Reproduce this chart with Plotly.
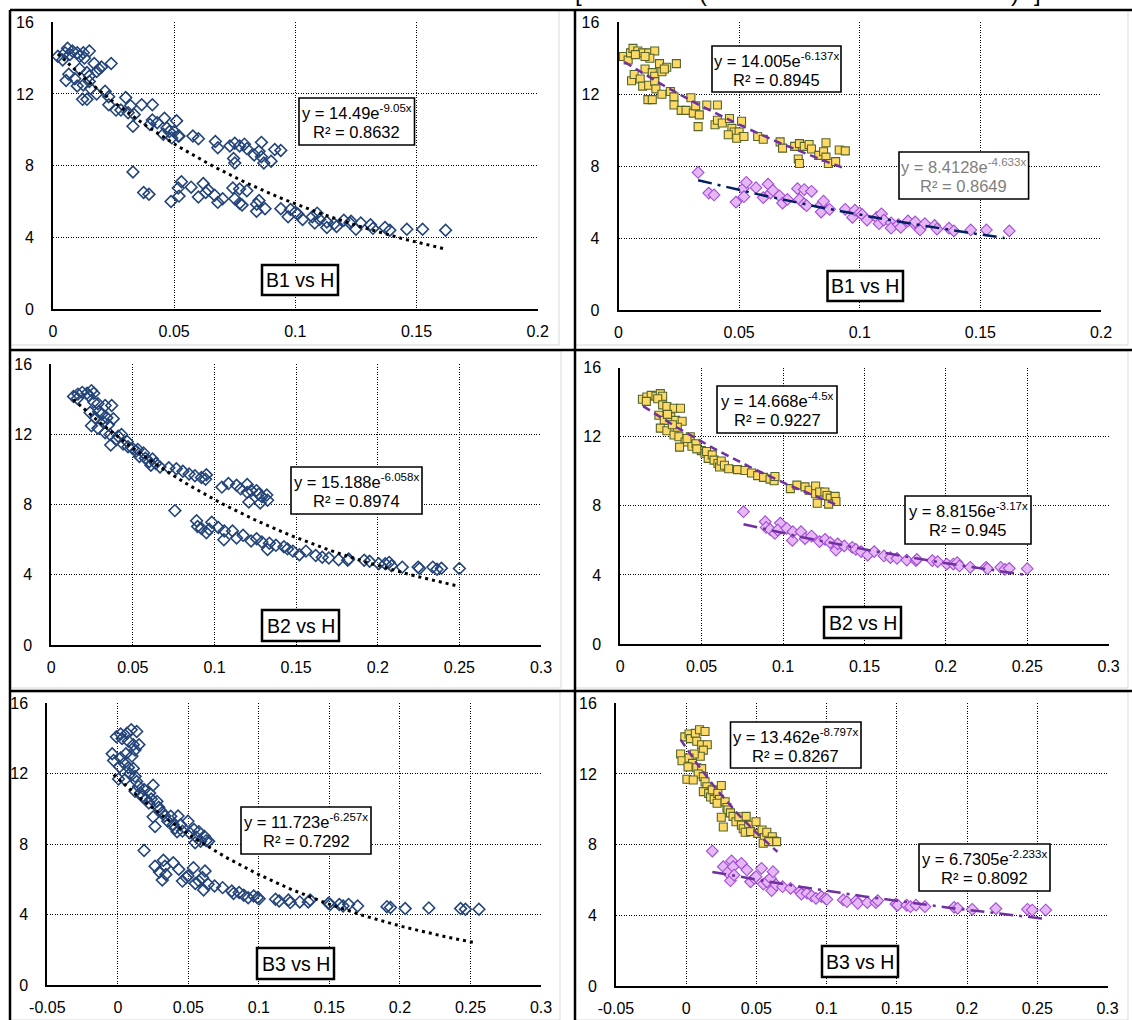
import numpy as np
import plotly.graph_objects as go

W, H = 1132, 1020
FONT = "Liberation Sans, Arial, sans-serif"

# ---------------- data (H, B) pairs ----------------
b1_upper = [(0.002,14.1),(0.004,13.9),(0.005,14.3),(0.006,14.55),(0.008,14.4),(0.010,14.3),
            (0.0125,14.3),(0.015,14.4),(0.013,14.0),(0.017,13.7),(0.020,13.5),(0.024,13.7),
            (0.0054,12.75),(0.0065,13.1),(0.009,12.85),(0.011,13.4),(0.014,13.2),(0.015,13.0),
            (0.018,13.25),(0.010,12.45),(0.0125,12.5),(0.015,12.7),(0.0155,12.3),(0.018,12.0),
            (0.0122,11.7),(0.014,11.7),(0.0215,12.15),(0.023,11.85),(0.023,11.4),(0.026,11.1),
            (0.028,11.1),(0.030,11.8),(0.031,10.95),(0.032,11.35),(0.0335,10.85),(0.0366,11.4),
            (0.041,11.4),(0.033,10.2),(0.040,10.3),(0.041,10.55),(0.043,10.4),(0.046,10.65),
            (0.047,10.1),(0.048,9.9),(0.051,10.5),(0.050,9.9),(0.0517,9.65),(0.0455,9.75),
            (0.049,9.55),(0.052,9.65),(0.0577,9.65),(0.060,9.5),(0.067,9.35),(0.068,9.0),
            (0.073,9.1),(0.075,9.25),(0.077,9.1),(0.079,9.2),(0.080,8.95),(0.0745,8.4),
            (0.075,8.15),(0.083,8.6),(0.085,8.8),(0.086,9.3),(0.086,8.5),(0.087,8.15),
            (0.090,8.25),(0.0915,8.9),(0.094,8.85),(0.007,14.2),(0.011,14.1),(0.019,13.4)]
b1_lower = [(0.033,7.65),(0.0374,6.5),(0.0396,6.4),(0.0487,6.0),(0.0517,6.75),(0.053,7.1),
            (0.052,6.3),(0.057,6.8),(0.060,6.25),(0.062,7.0),(0.063,6.5),(0.064,6.65),
            (0.0667,6.35),(0.068,5.95),(0.070,6.15),(0.0742,6.75),(0.077,6.7),(0.080,6.6),
            (0.075,6.15),(0.077,5.9),(0.078,5.8),(0.084,5.85),(0.085,6.05),(0.084,5.45),
            (0.0875,5.6),(0.094,5.6),(0.097,5.15),(0.098,5.55),(0.100,5.4),(0.101,5.3),
            (0.103,5.0),(0.107,5.15),(0.109,5.35),(0.108,4.8),(0.110,5.0),(0.113,4.85),
            (0.113,4.55),(0.116,4.75),(0.117,4.6),(0.120,4.95),(0.1225,4.8),(0.123,4.9),
            (0.125,4.45),(0.127,4.8),(0.131,4.7),(0.132,4.5),(0.137,4.55),(0.139,4.4),
            (0.146,4.45),(0.1525,4.45),(0.162,4.4)]

b2_upper = [(0.0136,14.17),(0.0163,14.3),(0.019,14.4),(0.0219,14.35),(0.0246,14.5),(0.026,14.35),
            (0.016,14.05),(0.023,14.2),(0.026,13.85),(0.0286,13.75),(0.033,13.65),(0.037,13.65),
            (0.0237,13.25),(0.027,12.95),(0.031,13.15),(0.034,12.95),(0.0246,12.5),(0.0286,12.35),
            (0.033,12.1),(0.038,12.9),(0.035,12.55),(0.036,12.0),(0.0398,11.7),(0.043,12.0),
            (0.0364,11.4),(0.044,11.45),(0.0465,11.6),(0.0498,11.2),(0.052,11.05),(0.054,10.75),
            (0.053,11.15),(0.0565,10.95),(0.0576,10.65),(0.060,10.45),(0.061,10.25),(0.062,10.6),
            (0.064,10.35),(0.0666,10.15),(0.072,10.1),(0.0766,10.05),(0.0806,9.9),(0.0844,9.75),
            (0.088,9.65),(0.092,9.55),(0.0945,9.45),(0.095,9.7),(0.1045,9.0),(0.1085,9.2),
            (0.1135,9.1),(0.116,8.9),(0.120,9.15),(0.120,8.7),(0.1225,8.8),(0.1257,8.8),
            (0.127,8.6),(0.129,8.45),(0.132,8.55),(0.1325,8.25),(0.128,8.1),(0.121,8.15),
            (0.029,13.3),(0.032,12.7),(0.041,11.9),(0.047,11.3)]
b2_lower = [(0.0757,7.66),(0.089,7.08),(0.0896,6.75),(0.092,6.64),(0.095,6.4),(0.0983,7.0),
            (0.0967,6.6),(0.1023,6.7),(0.1057,6.0),(0.106,6.5),(0.111,6.5),(0.1135,6.1),
            (0.1175,6.25),(0.1224,5.93),(0.1258,6.06),(0.129,5.87),(0.1325,5.44),(0.1336,5.8),
            (0.1376,5.68),(0.1425,5.6),(0.1447,5.48),(0.148,5.35),(0.152,5.15),(0.156,5.35),
            (0.162,5.1),(0.166,5.0),(0.170,4.96),(0.176,4.86),(0.1816,4.83),(0.1822,4.9),
            (0.1917,4.83),(0.195,4.77),(0.2006,4.63),(0.2046,4.63),(0.207,4.71),(0.2084,4.52),
            (0.215,4.44),(0.2247,4.44),(0.2256,4.36),(0.2337,4.44),(0.2363,4.32),(0.239,4.38),
            (0.250,4.36)]

b3_upper = [(-0.004,13.13),(-0.003,12.75),(-0.001,14.1),(0.002,14.26),(0.003,14.0),(0.0065,14.3),
            (0.0095,14.5),(0.0134,14.4),(0.0075,13.85),(0.011,13.65),(0.015,13.65),(0.0122,13.35),
            (0.010,13.0),(0.0057,13.13),(0.002,12.9),(0.0045,12.6),(0.0013,12.4),(0.0075,12.35),
            (0.011,12.3),(0.0085,12.0),(0.0005,11.7),(0.005,11.66),(0.0122,11.85),(0.0134,11.56),
            (0.0147,11.28),(0.0122,11.0),(0.016,10.9),(0.0173,10.7),(0.0186,11.1),(0.0199,10.56),
            (0.0225,10.9),(0.025,11.35),(0.0237,10.56),(0.022,10.34),(0.0277,10.43),(0.029,10.1),
            (0.0297,9.96),(0.0315,9.8),(0.025,9.55),(0.0264,9.0),(0.0333,9.6),(0.0354,9.3),
            (0.0375,9.58),(0.0393,9.1),(0.0406,8.9),(0.0427,9.6),(0.0445,9.1),(0.042,8.7),
            (0.0458,8.74),(0.0497,9.3),(0.051,8.64),(0.054,8.83),(0.0556,8.4),(0.0574,8.7),
            (0.0548,8.08),(0.0613,8.45),(0.0626,8.2),(0.0644,8.17),(0.0587,8.17)]
b3_lower = [(0.0186,7.64),(0.0264,6.75),(0.0295,6.42),(0.0315,5.96),(0.0323,7.08),(0.0334,6.75),
            (0.0341,6.28),(0.0393,6.94),(0.0432,6.57),(0.0458,5.9),(0.0484,6.1),(0.0497,6.19),
            (0.0536,6.66),(0.0549,5.77),(0.0575,5.9),(0.0600,6.1),(0.0618,6.47),(0.0608,5.4),
            (0.064,5.72),(0.0686,5.62),(0.0743,5.53),(0.0808,5.34),(0.082,5.2),(0.086,5.25),
            (0.0893,5.1),(0.0924,4.96),(0.0963,5.06),(0.099,4.96),(0.1002,4.9),(0.1118,4.87),
            (0.1144,4.77),(0.121,4.83),(0.1222,4.68),(0.129,4.72),(0.135,4.72),(0.1364,4.83),
            (0.1493,4.64),(0.1506,4.58),(0.157,4.57),(0.1597,4.49),(0.1636,4.58),(0.170,4.49),
            (0.1908,4.45),(0.1933,4.4),(0.2037,4.34),(0.2205,4.38),(0.243,4.34),(0.2464,4.3),
            (0.256,4.3)]

# exponential trendlines shown on the chart: (a, b, x_from, x_to) for y = a*e^(b*x)
fit_b1_all = (14.49, -9.05, 0.002, 0.162)
fit_b1_up = (14.005, -6.137, 0.0025, 0.094)
fit_b1_lo = (8.4128, -4.633, 0.033, 0.160)
fit_b2_all = (15.188, -6.058, 0.0135, 0.25)
fit_b2_up = (14.668, -4.5, 0.014, 0.133)
fit_b2_lo = (8.8156, -3.17, 0.0757, 0.25)
fit_b3_all = (11.723, -6.257, -0.003, 0.253)
fit_b3_up = (13.462, -8.797, -0.004, 0.065)
fit_b3_lo = (6.7305, -2.233, 0.0186, 0.256)

eq_b1_all = ("y = 14.49e", "-9.05x", "R² = 0.8632")
eq_b1_up = ("y = 14.005e", "-6.137x", "R² = 0.8945")
eq_b1_lo = ("y = 8.4128e", "-4.633x", "R² = 0.8649")
eq_b2_all = ("y = 15.188e", "-6.058x", "R² = 0.8974")
eq_b2_up = ("y = 14.668e", "-4.5x", "R² = 0.9227")
eq_b2_lo = ("y = 8.8156e", "-3.17x", "R² = 0.945")
eq_b3_all = ("y = 11.723e", "-6.257x", "R² = 0.7292")
eq_b3_up = ("y = 13.462e", "-8.797x", "R² = 0.8267")
eq_b3_lo = ("y = 6.7305e", "-2.233x", "R² = 0.8092")

titles = ["B1 vs H", "B2 vs H", "B3 vs H"]
y_ticks = [0, 4, 8, 12, 16]
x_ticks_b1 = [0, 0.05, 0.1, 0.15, 0.2]
x_text_b1 = ["0", "0.05", "0.1", "0.15", "0.2"]
x_ticks_b2 = [0, 0.05, 0.1, 0.15, 0.2, 0.25, 0.3]
x_text_b2 = ["0", "0.05", "0.1", "0.15", "0.2", "0.25", "0.3"]
x_ticks_b3 = [-0.05, 0, 0.05, 0.1, 0.15, 0.2, 0.25, 0.3]
x_text_b3 = ["-0.05", "0", "0.05", "0.1", "0.15", "0.2", "0.25", "0.3"]

# ---------------- helpers ----------------
def px(x):
    return x / W

def py(y):
    return 1 - y / H

def xs(pts):
    return [p[0] for p in pts]

def ys(pts):
    return [p[1] for p in pts]

def curve(fit):
    a, b, x0, x1 = fit
    x = np.linspace(x0, x1, 80)
    return x, a * np.exp(b * x)

BLUE = "#24457A"
PURPLE = "#7030A0"
NAVY = "#002060"
TICK = 16
EQ = 16.5
TITLE = 19.5

fig = go.Figure()

# panel geometry (pixels): x0, x1, ytop, ybottom
panels = [
    dict(x=(53, 537.7), y=(22.3, 309), ticks=(x_ticks_b1, x_text_b1)),
    dict(x=(618.5, 1101), y=(22.3, 310), ticks=(x_ticks_b1, x_text_b1)),
    dict(x=(51.3, 541), y=(364.3, 645), ticks=(x_ticks_b2, x_text_b2)),
    dict(x=(620.3, 1108.6), y=(367.7, 644), ticks=(x_ticks_b2, x_text_b2)),
    dict(x=(47.3, 541), y=(703.3, 985), ticks=(x_ticks_b3, x_text_b3)),
    dict(x=(616, 1107.5), y=(703.3, 986), ticks=(x_ticks_b3, x_text_b3)),
]

layout = dict(width=W, height=H, margin=dict(l=0, r=0, t=0, b=0, autoexpand=False),
              paper_bgcolor="white", plot_bgcolor="white", showlegend=False,
              font=dict(family=FONT, size=TICK, color="black"))

for i, p in enumerate(panels):
    n = "" if i == 0 else str(i + 1)
    tv, tt = p["ticks"]
    layout["xaxis" + n] = dict(
        domain=[px(p["x"][0]), px(p["x"][1])], anchor="y" + n,
        range=[tv[0], tv[-1]], tickvals=tv, ticktext=tt, ticks="",
        showline=True, linecolor="black", linewidth=2, zeroline=False,
        showgrid=True, gridcolor="black", gridwidth=1, griddash="1px,1.5px",
        ticklabelstandoff=7, tickfont=dict(family=FONT, size=TICK, color="black"),
        automargin=False, fixedrange=True)
    layout["yaxis" + n] = dict(
        domain=[py(p["y"][1]), py(p["y"][0])], anchor="x" + n,
        range=[0, 16], tickvals=y_ticks, ticks="",
        showline=True, linecolor="black", linewidth=2, zeroline=False,
        showgrid=True, gridcolor="black", gridwidth=1, griddash="1px,1.5px",
        ticklabelstandoff=14, tickfont=dict(family=FONT, size=TICK, color="black"),
        automargin=False, fixedrange=True)

fig.update_layout(**layout)

groups = [(b1_upper, b1_lower, fit_b1_all, fit_b1_up, fit_b1_lo, NAVY),
          (b2_upper, b2_lower, fit_b2_all, fit_b2_up, fit_b2_lo, PURPLE),
          (b3_upper, b3_lower, fit_b3_all, fit_b3_up, fit_b3_lo, PURPLE)]

for r, (up, lo, fa, fu, fl, lo_col) in enumerate(groups):
    nl = "" if r == 0 else str(2 * r + 1)
    nr = str(2 * r + 2)
    allpts = up + lo
    fig.add_trace(go.Scatter(x=xs(allpts), y=ys(allpts), mode="markers",
                             xaxis="x" + nl, yaxis="y" + nl,
                             marker=dict(symbol="diamond-open", size=9, color=BLUE,
                                         line=dict(width=1.6, color=BLUE))))
    cx, cy = curve(fa)
    fig.add_trace(go.Scatter(x=cx, y=cy, mode="lines", xaxis="x" + nl, yaxis="y" + nl,
                             line=dict(color="black", width=3, dash="3px,4px")))
    fig.add_trace(go.Scatter(x=xs(up), y=ys(up), mode="markers",
                             xaxis="x" + nr, yaxis="y" + nr,
                             marker=dict(symbol="square", size=8, color="#FFD966",
                                         line=dict(width=1.1, color="#55662A"))))
    fig.add_trace(go.Scatter(x=xs(lo), y=ys(lo), mode="markers",
                             xaxis="x" + nr, yaxis="y" + nr,
                             marker=dict(symbol="diamond", size=9, color="#E5B8F5",
                                         line=dict(width=1.1, color="#A54CD6"))))
    cx, cy = curve(fu)
    fig.add_trace(go.Scatter(x=cx, y=cy, mode="lines", xaxis="x" + nr, yaxis="y" + nr,
                             line=dict(color=PURPLE, width=2.5, dash="8px,5px")))
    cx, cy = curve(fl)
    fig.add_trace(go.Scatter(x=cx, y=cy, mode="lines", xaxis="x" + nr, yaxis="y" + nr,
                             line=dict(color=lo_col, width=2.5, dash="14px,6px,3px,6px")))

shapes = []
annotations = []

def box(x0, y0, x1, y1, w):
    shapes.append(dict(type="rect", xref="paper", yref="paper", layer="above",
                       x0=px(x0), x1=px(x1), y0=py(y1), y1=py(y0),
                       line=dict(color="black", width=w), fillcolor="white"))

def text(x, y, t, size, color="black"):
    annotations.append(dict(xref="paper", yref="paper", x=px(x), y=py(y), text=t,
                            showarrow=False, xanchor="center", yanchor="middle",
                            font=dict(family=FONT, size=size, color=color)))

def eqbox(x0, y0, x1, y1, eq, color="black"):
    box(x0, y0, x1, y1, 1.6)
    cxm = (x0 + x1) / 2
    text(cxm, y0 + 14, eq[0] + "<sup>" + eq[1] + "</sup>", EQ, color)
    text(cxm, y0 + 34, eq[2], EQ, color)

def titlebox(x0, y0, x1, y1, t):
    box(x0, y0, x1, y1, 2.5)
    text((x0 + x1) / 2, (y0 + y1) / 2, t, TITLE)

# frame: light gray chart borders and black separators
for (x0, y0, x1, y1) in [(10, 10, 559, 345), (575, 10, 1128, 345), (10, 351, 561, 688),
                         (575, 351, 1128, 688), (10, 692, 560, 1020), (575, 692, 1128, 1020)]:
    shapes.append(dict(type="rect", xref="paper", yref="paper", layer="below",
                       x0=px(x0), x1=px(x1), y0=py(y1), y1=py(y0),
                       line=dict(color="#D9D9D9", width=1)))
for (x0, y0, x1, y1) in [(10, 10, 1132, 10), (10, 350, 1132, 350), (10, 691, 1132, 691),
                         (10, 10, 10, 1020), (575, 10, 575, 1020)]:
    shapes.append(dict(type="line", xref="paper", yref="paper", layer="above",
                       x0=px(x0), x1=px(x1), y0=py(y0), y1=py(y1),
                       line=dict(color="black", width=2.5)))

eqbox(299, 98, 414.5, 145, eq_b1_all)
titlebox(262, 265, 338, 295, titles[0])
eqbox(712, 46, 841, 92, eq_b1_up)
eqbox(899, 152, 1028.6, 199, eq_b1_lo, "#7F7F7F")
titlebox(827.5, 271, 903, 301, titles[0])

eqbox(291, 467, 422, 514, eq_b2_all)
titlebox(262, 610, 339, 641, titles[1])
eqbox(717, 386, 837, 433, eq_b2_up)
eqbox(905, 496, 1031, 544, eq_b2_lo)
titlebox(824, 607, 901, 638, titles[1])

eqbox(241, 807, 371, 854, eq_b3_all)
titlebox(257, 948, 334, 979, titles[2])
eqbox(730.5, 722, 861, 768, eq_b3_up)
eqbox(919, 844, 1050, 891, eq_b3_lo)
titlebox(822, 946, 898, 977, titles[2])

# cut-off caption glyphs at the very top edge
for gx, g in [(578, "["), (703, "("), (1015, ")"), (1037, "]")]:
    text(gx, -8, g, 24)

fig.update_layout(shapes=shapes, annotations=annotations)
fig.write_html("out.html", config={"displayModeBar": False, "staticPlot": True},
               post_script="document.body.style.margin='0px';document.body.style.overflow='hidden';")
